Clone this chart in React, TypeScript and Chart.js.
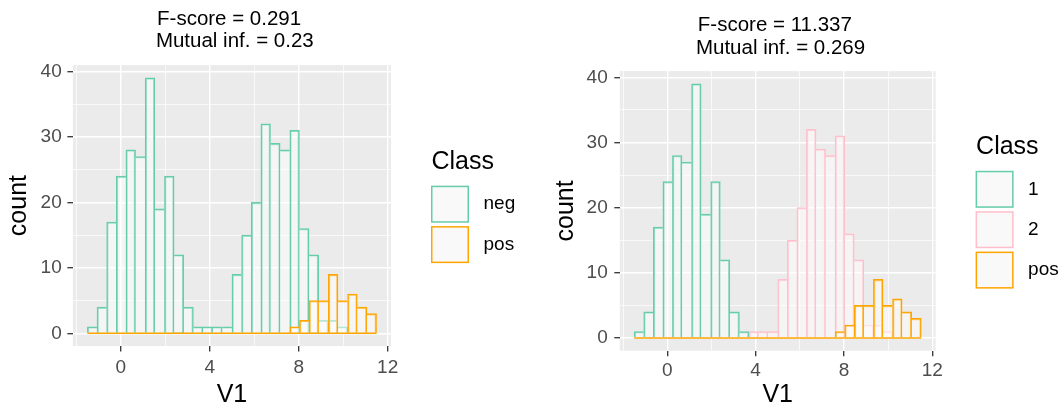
import React, { useEffect, useRef } from 'react';
import { Chart, registerables } from 'chart.js';

Chart.register(...registerables);

// ---------- data ----------
const binStart = -1.5;
const binWidth = 13 / 30;
const binCount = 30;
const binCenters = Array.from({ length: binCount }, (_, i) => binStart + binWidth * (i + 0.5));
const binEnd = binStart + binWidth * binCount;

const negCounts = [1, 4, 17, 24, 28, 27, 39, 19, 24, 12, 4, 1, 1, 1, 1, 9, 15, 20, 32, 29, 28, 31, 16, 12, 2, 2, 1, 0, 0, 0];
const posCounts = [0, 0, 0, 0, 0, 0, 0, 0, 0, 0, 0, 0, 0, 0, 0, 0, 0, 0, 0, 0, 0, 1, 2, 5, 5, 9, 5, 6, 4, 3];
const class1Counts = [1, 4, 17, 24, 28, 27, 39, 19, 24, 12, 4, 1, 0, 0, 0, 0, 0, 0, 0, 0, 0, 0, 0, 0, 0, 0, 0, 0, 0, 0];
const class2Counts = [0, 0, 0, 0, 0, 0, 0, 0, 0, 0, 0, 0, 1, 1, 1, 9, 15, 20, 32, 29, 28, 31, 16, 12, 2, 2, 1, 0, 0, 0];

const xTickValues = [-2, 0, 2, 4, 6, 8, 10, 12];
const xLabelValues = [0, 4, 8, 12];
const yTickValues = [0, 5, 10, 15, 20, 25, 30, 35, 40];
const yLabelValues = [0, 10, 20, 30, 40];

const leftTitle = ['F-score = 0.291 ', ' Mutual inf. = 0.23'];
const rightTitle = ['F-score = 11.337 ', ' Mutual inf. = 0.269'];
const legendTitle = 'Class';
const xTitle = 'V1';
const yTitle = 'count';

// ---------- style ----------
const FONT = "'Liberation Sans', Arial, Helvetica, sans-serif";
const GREEN = '#66CDAA';
const PINK = '#FFC0CB';
const ORANGE = '#FFA500';
const BAR_FILL = 'rgba(255,255,255,0.5)';
const BW = 1.5;

const edgeBorders = (ctx: any) => {
  const d = ctx.dataset?.data;
  const i = ctx.dataIndex;
  if (!d || i === undefined) return 0;
  const v = d[i]?.y ?? 0;
  if (!v) return 0;
  const prev = i > 0 ? d[i - 1].y : 0;
  const next = i < d.length - 1 ? d[i + 1].y : 0;
  return { top: BW, left: v > prev ? BW : 0, right: v >= next ? BW : 0, bottom: 0 };
};

const barDataset = (label: string, counts: number[], color: string, order: number) => ({
  type: 'bar' as const,
  label,
  order,
  data: binCenters.map((x, i) => ({ x, y: counts[i] })),
  backgroundColor: BAR_FILL,
  borderColor: color,
  borderWidth: edgeBorders,
  grouped: false,
  barPercentage: 1,
  categoryPercentage: 1,
});

const baselineDataset = (color: string) => ({
  type: 'line' as const,
  label: '_baseline',
  order: -1,
  data: [
    { x: binStart, y: 0 },
    { x: binEnd, y: 0 },
  ],
  borderColor: color,
  borderWidth: BW,
  pointRadius: 0,
  fill: false,
});

const panelPlugin = {
  id: 'ggPanel',
  beforeDraw(chart: any) {
    const { ctx, chartArea: a } = chart;
    ctx.save();
    ctx.fillStyle = '#EBEBEB';
    ctx.fillRect(a.left, a.top, a.right - a.left, a.bottom - a.top);
    ctx.restore();
  },
};

const legendPlugin = {
  id: 'ggLegend',
  afterDraw(chart: any) {
    const { ctx, chartArea: a } = chart;
    const items = chart.data.datasets.filter((d: any) => d.type === 'bar');
    const slot = 40.4;
    const centerY = (a.top + a.bottom) / 2;
    const slotTop = centerY - (items.length * slot) / 2 + 18.8;
    const keyX = a.right + 40;
    ctx.save();
    ctx.fillStyle = '#000';
    ctx.font = `25px ${FONT}`;
    ctx.textAlign = 'left';
    ctx.textBaseline = 'alphabetic';
    ctx.fillText(legendTitle, a.right + 40.5, slotTop - 15);
    items.forEach((d: any, i: number) => {
      const y = slotTop + i * slot + 1.7;
      ctx.fillStyle = '#F2F2F2';
      ctx.fillRect(keyX, y, 38, 37);
      ctx.fillStyle = d.backgroundColor;
      ctx.fillRect(keyX, y, 38, 37);
      ctx.strokeStyle = d.borderColor;
      ctx.lineWidth = BW;
      ctx.strokeRect(keyX + BW / 2, y + BW / 2, 38 - BW, 37 - BW);
      ctx.fillStyle = '#000';
      ctx.font = `19px ${FONT}`;
      ctx.textBaseline = 'middle';
      ctx.fillText(d.label, keyX + 52.5, slotTop + i * slot + slot / 2);
    });
    ctx.restore();
  },
};

type Spec = {
  x: number;
  w: number;
  title: string[];
  datasets: any[];
  padR: number;
  titlePadTop: number;
  titlePadBottom: number;
  yWidth: number;
  yTickPad: number;
  yTitlePad: number;
  xHeight: number;
  xTickPad: number;
  xTitlePad: number;
};

const buildConfig = (s: Spec): any => ({
  type: 'bar',
  data: { datasets: s.datasets },
  plugins: [panelPlugin, legendPlugin],
  options: {
    animation: false,
    responsive: false,
    devicePixelRatio: 1,
    layout: { padding: { top: 0, left: 0, right: s.padR, bottom: 0 } },
    plugins: {
      legend: { display: false },
      tooltip: { enabled: false },
      title: {
        display: true,
        text: s.title,
        fullSize: false,
        color: '#000',
        font: { family: FONT, size: 20.5, weight: 'normal', lineHeight: 22.3 / 20.5 },
        padding: { top: s.titlePadTop, bottom: s.titlePadBottom },
      },
    },
    scales: {
      x: {
        type: 'linear',
        min: -2.15,
        max: 12.15,
        offset: false,
        afterBuildTicks: (scale: any) => {
          scale.ticks = xTickValues.map((v) => ({ value: v }));
        },
        afterFit: (scale: any) => {
          scale.height = s.xHeight;
        },
        ticks: {
          autoSkip: false,
          maxRotation: 0,
          padding: s.xTickPad,
          color: '#4D4D4D',
          font: { family: FONT, size: 19 },
          callback: (v: number) => (xLabelValues.includes(v) ? String(v) : ''),
        },
        grid: {
          offset: false,
          color: '#FFFFFF',
          lineWidth: (c: any) => (xLabelValues.includes(c.tick?.value) ? 1.4 : 0.7),
          drawTicks: true,
          tickLength: 5.5,
          tickWidth: 1.3,
          tickColor: (c: any) => (xLabelValues.includes(c.tick?.value) ? '#333333' : 'rgba(0,0,0,0)'),
        },
        border: { display: false },
        title: {
          display: true,
          text: xTitle,
          color: '#000',
          font: { family: FONT, size: 25, lineHeight: 1.2 },
          padding: { top: s.xTitlePad, bottom: 0 },
        },
      },
      y: {
        type: 'linear',
        min: -1.95,
        max: 40.95,
        afterBuildTicks: (scale: any) => {
          scale.ticks = yTickValues.map((v) => ({ value: v }));
        },
        afterFit: (scale: any) => {
          scale.width = s.yWidth;
        },
        ticks: {
          autoSkip: false,
          padding: s.yTickPad,
          color: '#4D4D4D',
          font: { family: FONT, size: 19 },
          callback: (v: number) => (yLabelValues.includes(v) ? String(v) : ''),
        },
        grid: {
          color: '#FFFFFF',
          lineWidth: (c: any) => (yLabelValues.includes(c.tick?.value) ? 1.4 : 0.7),
          drawTicks: true,
          tickLength: 5.5,
          tickWidth: 1.3,
          tickColor: (c: any) => (yLabelValues.includes(c.tick?.value) ? '#333333' : 'rgba(0,0,0,0)'),
        },
        border: { display: false },
        title: {
          display: true,
          text: yTitle,
          color: '#000',
          font: { family: FONT, size: 25, lineHeight: 1.2 },
          padding: { top: s.yTitlePad, bottom: 0 },
        },
      },
    },
  },
});

const leftSpec: Spec = {
  x: 0,
  w: 530,
  title: leftTitle,
  datasets: [
    barDataset('neg', negCounts, GREEN, 1),
    barDataset('pos', posCounts, ORANGE, 0),
    baselineDataset(ORANGE),
  ],
  padR: 139,
  titlePadTop: 8,
  titlePadBottom: 12.5,
  yWidth: 72.9,
  yTickPad: 5.7,
  yTitlePad: 4.6,
  xHeight: 63.9,
  xTickPad: 4.5,
  xTitlePad: -0.5,
};

const rightSpec: Spec = {
  x: 530,
  w: 531,
  title: rightTitle,
  datasets: [
    barDataset('1', class1Counts, GREEN, 2),
    barDataset('2', class2Counts, PINK, 1),
    barDataset('pos', posCounts, ORANGE, 0),
    baselineDataset(ORANGE),
  ],
  padR: 125.4,
  titlePadTop: 14.65,
  titlePadBottom: 11.85,
  yWidth: 89.8,
  yTickPad: 6.6,
  yTitlePad: 21.3,
  xHeight: 59.3,
  xTickPad: 2.9,
  xTitlePad: -4,
};

function HistPanel({ spec }: { spec: Spec }) {
  const ref = useRef<HTMLCanvasElement>(null);
  useEffect(() => {
    if (!ref.current) return;
    const chart = new Chart(ref.current, buildConfig(spec));
    return () => chart.destroy();
  }, [spec]);
  return (
    <canvas
      ref={ref}
      width={spec.w}
      height={410}
      style={{ position: 'absolute', left: spec.x, top: 0, width: spec.w, height: 410 }}
    />
  );
}

export default function App() {
  return (
    <div style={{ position: 'absolute', left: 0, top: 0, width: 1061, height: 410, background: '#FFFFFF' }}>
      <HistPanel spec={leftSpec} />
      <HistPanel spec={rightSpec} />
    </div>
  );
}
